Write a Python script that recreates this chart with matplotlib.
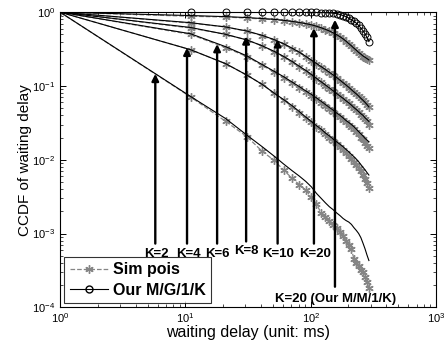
import matplotlib
matplotlib.use("Agg")
import matplotlib.pyplot as plt
from matplotlib.ticker import LogLocator, NullFormatter
from matplotlib.lines import Line2D

plt.rcParams['font.family'] = ['Liberation Sans', 'DejaVu Sans']
plt.rcParams['mathtext.fontset'] = 'custom'
plt.rcParams['mathtext.rm'] = 'Liberation Sans'
plt.rcParams['mathtext.it'] = 'Liberation Sans:italic'
plt.rcParams['mathtext.bf'] = 'Liberation Sans:bold'

# waiting delay sample points (ms)
delay = [1, 11, 21, 31, 41, 51, 61, 71, 81, 91, 101, 111, 121, 131, 141,
         151, 161, 171, 181, 191, 201, 211, 221, 231, 241, 251, 261, 271, 281, 291]

# simulation (Poisson) CCDF
sim_k2 = [1, 0.071, 0.033, 0.0205, 0.013, 0.0098, 0.0072, 0.0056, 0.0046, 0.0039, 0.0031,
          0.0025, 0.0019, 0.0017, 0.0015, 0.0013, 0.00117, 0.00105, 0.00092, 0.0008,
          0.0007, 0.00062, 0.00045, 0.0004, 0.00036, 0.00032, 0.0003, 0.00026, 0.00022, 0.00018]
sim_k4 = [1, 0.31, 0.20, 0.14, 0.105, 0.08, 0.064, 0.052, 0.043, 0.037, 0.032, 0.028, 0.025,
          0.022, 0.0195, 0.0178, 0.0162, 0.015, 0.0135, 0.0122, 0.0112, 0.0102, 0.0093,
          0.0085, 0.0077, 0.007, 0.0062, 0.0055, 0.0048, 0.0042]
sim_k6 = [1, 0.50, 0.33, 0.25, 0.19, 0.155, 0.13, 0.11, 0.095, 0.083, 0.074, 0.066, 0.059,
          0.053, 0.049, 0.045, 0.041, 0.038, 0.035, 0.032, 0.03, 0.028, 0.026, 0.024, 0.022,
          0.02, 0.019, 0.017, 0.0155, 0.0142]
sim_k8 = [1, 0.61, 0.50, 0.42, 0.35, 0.29, 0.25, 0.21, 0.18, 0.16, 0.14, 0.125, 0.112, 0.10,
          0.092, 0.085, 0.078, 0.072, 0.066, 0.062, 0.058, 0.054, 0.05, 0.047, 0.044, 0.041,
          0.038, 0.036, 0.033, 0.03]
sim_k10 = [1, 0.71, 0.63, 0.55, 0.48, 0.42, 0.37, 0.32, 0.285, 0.25, 0.22, 0.20, 0.18, 0.165,
           0.15, 0.14, 0.128, 0.118, 0.11, 0.102, 0.095, 0.088, 0.082, 0.077, 0.072, 0.068,
           0.064, 0.06, 0.056, 0.052]
sim_k20 = [1, 0.88, 0.86, 0.83, 0.81, 0.79, 0.77, 0.745, 0.72, 0.695, 0.67, 0.64, 0.61, 0.58,
           0.55, 0.52, 0.49, 0.46, 0.43, 0.40, 0.37, 0.345, 0.32, 0.30, 0.28, 0.265, 0.25,
           0.24, 0.23, 0.222]

# model (M/G/1/K) CCDF
mod_k2 = [1, 0.072, 0.036, 0.0215, 0.015, 0.0112, 0.0087, 0.0071, 0.006, 0.0051, 0.0043,
          0.0035, 0.003, 0.0026, 0.0023, 0.0021, 0.0019, 0.00175, 0.0016, 0.0015, 0.00143,
          0.00133, 0.0012, 0.0011, 0.001, 0.00088, 0.00074, 0.00062, 0.00051, 0.00043]
mod_k4 = [1, 0.31, 0.20, 0.14, 0.105, 0.08, 0.065, 0.054, 0.045, 0.038, 0.033, 0.029, 0.026,
          0.023, 0.021, 0.019, 0.0175, 0.0162, 0.015, 0.0138, 0.0128, 0.0118, 0.011, 0.0102,
          0.0094, 0.0086, 0.0079, 0.0073, 0.0067, 0.0062]
mod_k6 = [1, 0.51, 0.34, 0.255, 0.195, 0.158, 0.133, 0.113, 0.098, 0.086, 0.077, 0.069, 0.062,
          0.056, 0.051, 0.047, 0.043, 0.04, 0.037, 0.034, 0.032, 0.03, 0.028, 0.026, 0.024,
          0.0225, 0.021, 0.0195, 0.0185, 0.0175]
mod_k8 = [1, 0.62, 0.50, 0.42, 0.35, 0.295, 0.25, 0.215, 0.185, 0.163, 0.143, 0.127, 0.114,
          0.103, 0.094, 0.086, 0.079, 0.073, 0.068, 0.063, 0.059, 0.055, 0.051, 0.048, 0.045,
          0.042, 0.04, 0.037, 0.035, 0.033]
mod_k10 = [1, 0.72, 0.63, 0.555, 0.485, 0.425, 0.372, 0.325, 0.287, 0.253, 0.224, 0.202, 0.183,
           0.167, 0.153, 0.141, 0.13, 0.12, 0.111, 0.103, 0.096, 0.089, 0.083, 0.078, 0.073,
           0.068, 0.064, 0.06, 0.056, 0.052]
mod_k20 = [1, 0.90, 0.87, 0.845, 0.82, 0.80, 0.775, 0.75, 0.725, 0.70, 0.675, 0.645, 0.615,
           0.585, 0.555, 0.525, 0.495, 0.465, 0.435, 0.405, 0.375, 0.35, 0.325, 0.305, 0.285,
           0.27, 0.255, 0.245, 0.235, 0.225]
# M/M/1/K, K=20
mm1k_k20 = [1, 1, 1, 1, 1, 1, 1, 1, 1, 1, 0.995, 0.993, 0.99, 0.985, 0.978, 0.97, 0.955,
            0.93, 0.90, 0.87, 0.83, 0.79, 0.75, 0.71, 0.66, 0.61, 0.56, 0.51, 0.455, 0.40]

sim_series = [sim_k2, sim_k4, sim_k6, sim_k8, sim_k10, sim_k20]
mod_series = [mod_k2, mod_k4, mod_k6, mod_k8, mod_k10, mod_k20]

# annotations
arrow_x = [5.75, 10.3, 17.9, 30.5, 54.4, 106, 156]
arrow_tip = [0.146, 0.33, 0.37, 0.47, 0.43, 0.61, 0.79]
arrow_base = [7.3e-4, 7.3e-4, 7.3e-4, 7.8e-4, 7.3e-4, 7.3e-4, 1.9e-4]
label_text = ['K=2', 'K=4', 'K=6', 'K=8', 'K=10', 'K=20', 'K=20 (Our M/M/1/K)']
label_x = [5.85, 10.6, 18.0, 30.5, 55.0, 108, 159]
label_y = [5.3e-4, 5.3e-4, 5.3e-4, 5.8e-4, 5.2e-4, 5.2e-4, 1.3e-4]

fig = plt.figure(figsize=(4.45, 3.48), dpi=100)
ax = fig.add_axes([0.135, 0.117, 0.845, 0.848])

gray = '#858585'
asterisk = (6, 2, 0)
for s in sim_series:
    ax.plot(delay, s, color=gray, linestyle='--', linewidth=0.9, marker=asterisk,
            markersize=6, markeredgewidth=1.0, zorder=2)
for m in mod_series:
    ax.plot(delay, m, color='black', linestyle='-', linewidth=0.8, zorder=3)
ax.plot(delay, mm1k_k20, color='black', linestyle='-', linewidth=0.8, zorder=3)
ax.plot(delay[1:], mm1k_k20[1:], linestyle='none', marker='o', markersize=5,
        markerfacecolor='none', markeredgecolor='black', markeredgewidth=0.7,
        zorder=4, clip_on=False)

for xa, yt, yb in zip(arrow_x, arrow_tip, arrow_base):
    ax.annotate('', xy=(xa, yt), xytext=(xa, yb),
                arrowprops=dict(arrowstyle='-|>', lw=1.7, color='black',
                                mutation_scale=10, shrinkA=0, shrinkB=0), zorder=5)
for t, lx, ly in zip(label_text, label_x, label_y):
    ax.text(lx, ly, t, ha='center', va='center', fontsize=9.5, fontweight='bold', zorder=6)

ax.set_xscale('log')
ax.set_yscale('log')
ax.set_xlim(1, 1000)
ax.set_ylim(1e-4, 1)
ax.xaxis.set_major_locator(LogLocator(base=10, numticks=10))
ax.yaxis.set_major_locator(LogLocator(base=10, numticks=10))
ax.xaxis.set_minor_locator(LogLocator(base=10, subs=range(2, 10), numticks=20))
ax.yaxis.set_minor_locator(LogLocator(base=10, subs=range(2, 10), numticks=20))
ax.xaxis.set_minor_formatter(NullFormatter())
ax.yaxis.set_minor_formatter(NullFormatter())
ax.tick_params(which='both', direction='in', top=True, right=True, labelsize=8)
ax.tick_params(which='major', length=4, width=0.7)
ax.tick_params(which='minor', length=2, width=0.5)
ax.tick_params(axis='x', pad=2.5)
for sp in ax.spines.values():
    sp.set_linewidth(0.8)

ax.set_xlabel('waiting delay (unit: ms)', fontsize=11.5, labelpad=0.5)
ax.set_ylabel('CCDF of waiting delay', fontsize=11, labelpad=0)

handles = [Line2D([], [], color=gray, linestyle='--', marker=asterisk, markersize=6,
                  markeredgewidth=1.0, linewidth=0.9),
           Line2D([], [], color='black', linestyle='-', marker='o', markersize=5,
                  markerfacecolor='none', linewidth=0.8)]
leg = ax.legend(handles, ['Sim pois', 'Our M/G/1/K'], loc='lower left',
                prop={'weight': 'bold', 'size': 11.5}, frameon=True, fancybox=False,
                edgecolor='black', borderaxespad=0.25, handlelength=2.4,
                borderpad=0.35, labelspacing=0.35, handletextpad=0.3)
leg.get_frame().set_linewidth(0.8)
leg.set_zorder(7)

fig.savefig('out.png', dpi=100)
